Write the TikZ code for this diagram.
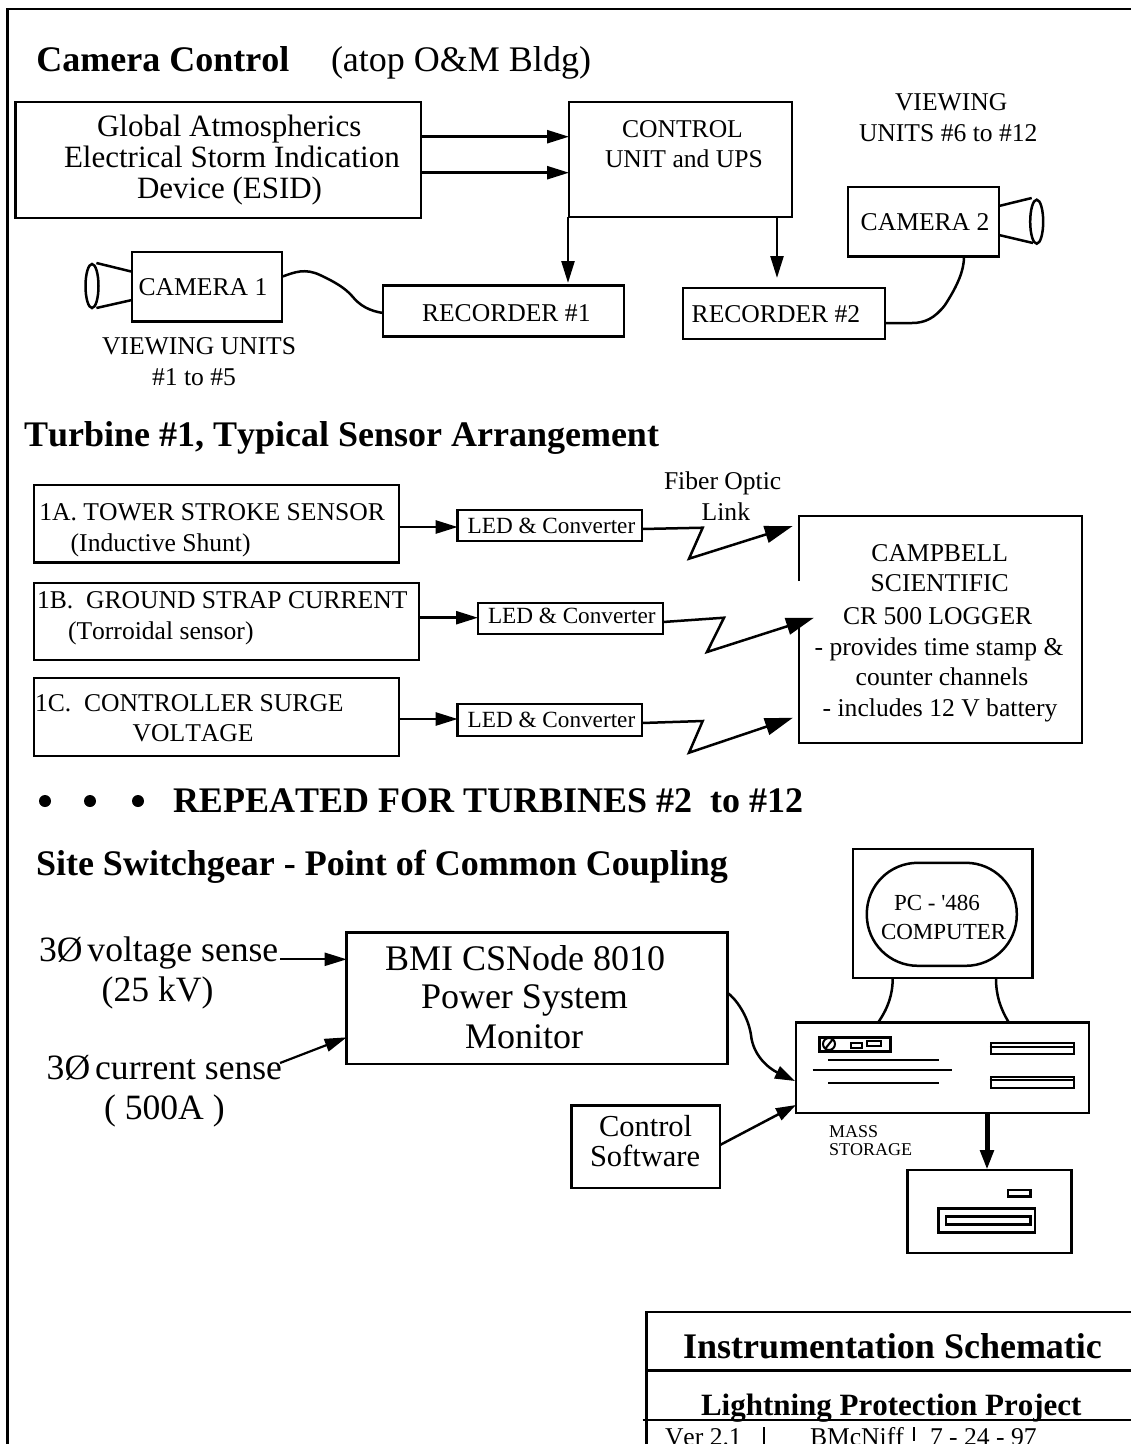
\documentclass[tikz,border=0pt]{standalone}
\usepackage{fontspec}
\setmainfont[Kerning=Off]{Liberation Serif}
\newfontfamily\rawserif[Kerning=Off]{Liberation Serif}
\usetikzlibrary{arrows.meta}
\tikzset{
  ln/.style={line width=2.5pt,line join=miter,draw=black},
  bx/.style={draw=black,line width=2.5pt,inner sep=0pt,outer sep=0pt,fill=none},
  txt/.style={anchor=base west,inner sep=0pt,outer sep=0pt,text=black},
  arr/.style={ln,-{Triangle[length=22pt,width=13pt]}},
  arrbig/.style={ln,-{Triangle[length=28pt,width=17pt]}},
}
\newcommand{\bxnode}[5]{%
  \pgfmathsetmacro{\bw}{(#4)-(#2)}\pgfmathsetmacro{\bh}{(#5)-(#3)}%
  \pgfmathsetmacro{\bcx}{((#4)+(#2))/2}\pgfmathsetmacro{\bcy}{((#5)+(#3))/2}%
  \node[bx,minimum width=\bw pt,minimum height=\bh pt] (#1) at (\bcx,\bcy) {};}
\newcommand{\tx}[5]{\node[txt,font=\fontsize{#2}{#2}\selectfont] (#1) at (#3,#4) {#5};}
\newcommand{\bt}[5]{\node[txt,font=\fontsize{#2}{#2}\selectfont\bfseries] (#1) at (#3,#4) {#5};}
\begin{document}
\begin{tikzpicture}[x=1pt,y=-1pt]
\useasboundingbox (0,0) rectangle (1131,1444);
% outer frame
\draw[line width=2.8pt] (7.5,1444) -- (7.5,9) -- (1131,9);
% --- Camera control
\bt{h1}{36}{36.4}{71.7}{Camera Control}
\tx{h1b}{36}{331}{71.7}{(atop O\&M Bldg)}
\bxnode{esid}{15.7}{102}{421}{218}
\tx{e1}{31}{97}{136.7}{Global Atmospherics}
\tx{e2}{31}{64}{167.5}{Electrical Storm Indication}
\tx{e3}{31}{137}{198.5}{Device (ESID)}
\bxnode{ctrl}{569}{102}{792}{217}
\tx{c1}{25.6}{622}{137}{CONTROL}
\tx{c2}{25.6}{605}{167.7}{UNIT and UPS}
\tx{v1}{25.6}{895}{110.7}{VIEWING}
\tx{v2}{25.6}{859}{141.7}{UNITS \#6 to \#12}
\bxnode{cam2}{848}{187}{999}{256.7}
\tx{cam2t}{25.6}{860.7}{230}{CAMERA 2}
\bxnode{cam1}{132}{252}{282}{321.7}
\tx{cam1t}{25.6}{138.6}{295}{CAMERA 1}
\bxnode{rec1}{383}{285.7}{624}{336.7}
\tx{rec1t}{25.6}{422}{321}{RECORDER \#1}
\bxnode{rec2}{683}{288}{885}{339}
\tx{rec2t}{25.6}{691.7}{322.7}{RECORDER \#2}
\tx{v3}{25.6}{102}{354}{VIEWING UNITS}
\tx{v4}{25.6}{152}{385}{\#1 to \#5}
\draw[arr] (esid.east |- 0,136.7) -- (ctrl.west |- 0,136.7);
\draw[arr] (esid.east |- 0,172.7) -- (ctrl.west |- 0,172.7);
\coordinate (r1tip) at (568,283);
\coordinate (r2tip) at (777,278);
\draw[arr] (ctrl.south -| r1tip) -- (r1tip);
\draw[arr] (ctrl.south -| r2tip) -- (r2tip);
% camera lenses
\draw[ln] (92,286) ellipse [x radius=6.5,y radius=22];
\draw[ln] (96.4,263) -- (cam1.west |- 0,271.7);
\draw[ln] (96.4,308) -- (cam1.west |- 0,300);
\draw[ln] (1036.7,221.7) ellipse [x radius=6.5,y radius=22];
\draw[ln] (cam2.east |- 0,206) -- (1031.7,198);
\draw[ln] (cam2.east |- 0,235) -- (1033,243);
% camera cables
\draw[ln] (cam1.east |- 0,276.7) .. controls (295,272) and (305,268) .. (320,275)
  .. controls (335,282) and (345,288) .. (352,296) .. controls (360,306) and (370,311) .. (rec1.west |- 0,313);
\draw[ln] (cam2.south -| 964,0) .. controls (964,270) and (958,285) .. (945,305)
  .. controls (935,318) and (925,323) .. (912,323) -- (rec2.east |- 0,323);
% --- Turbine
\bt{h2}{36}{24}{446.7}{Turbine \#1, Typical Sensor Arrangement}
\bxnode{s1}{34}{485}{399}{562.3}
\tx{s1a}{25.6}{39.3}{520}{1A. TOWER STROKE SENSOR}
\tx{s1b}{25.6}{70.7}{551}{(Inductive Shunt)}
\bxnode{s2}{34}{583}{419}{660}
\tx{s2a}{25.6}{37}{608}{1B.\ \ GROUND STRAP CURRENT}
\tx{s2b}{25.6}{68}{639}{(Torroidal sensor)}
\bxnode{s3}{34}{678}{399}{756}
\tx{s3a}{25.6}{35}{711}{1C.\ \ CONTROLLER SURGE}
\tx{s3b}{25.6}{132.7}{741.7}{VOLTAGE}
\bxnode{l1}{457.7}{510}{642}{541}
\tx{l1t}{23.2}{467.7}{533}{LED \& Converter}
\bxnode{l2}{478}{603}{663}{634}
\tx{l2t}{23.2}{488}{623}{LED \& Converter}
\bxnode{l3}{457.7}{704}{642}{736}
\tx{l3t}{23.2}{467.7}{727}{LED \& Converter}
\draw[arr] (s1.east |- 0,527) -- (l1.west |- 0,527);
\draw[arr] (s2.east |- 0,617.7) -- (l2.west |- 0,617.7);
\draw[arr] (s3.east |- 0,719) -- (l3.west |- 0,719);
\tx{f1}{25.6}{664}{489}{Fiber Optic}
\tx{f2}{25.6}{701.7}{520}{Link}
% logger: left side has a gap
\node[inner sep=0pt,minimum width=282.4pt,minimum height=227pt] (cr) at (940.5,629.5) {};
\draw[ln] (cr.west |- 0,581) -- (cr.north west) -- (cr.north east) -- (cr.south east) -- (cr.south west) -- (cr.west |- 0,628);
\node[txt,font=\fontsize{25.6}{25.6}\selectfont,anchor=base] (cr1) at (939.7,561) {CAMPBELL};
\node[txt,font=\fontsize{25.6}{25.6}\selectfont,anchor=base] (cr2) at (939.7,591.7) {SCIENTIFIC};
\node[txt,font=\fontsize{25.6}{25.6}\selectfont,anchor=base] (cr3) at (937.7,624) {CR 500 LOGGER};
\node[txt,font=\fontsize{25.6}{25.6}\selectfont,anchor=base] (cr4) at (939,655) {- provides time stamp \&};
\node[txt,font=\fontsize{25.6}{25.6}\selectfont,anchor=base] (cr5) at (942,685) {counter channels};
\node[txt,font=\fontsize{25.6}{25.6}\selectfont,anchor=base] (cr6) at (940,716) {- includes 12 V battery};
\coordinate (t1) at (792.7,526);
\coordinate (t2) at (814,617.7);
\coordinate (t3) at (793,717.7);
\draw[arrbig] (l1.east |- 0,529) -- (702.7,527.7) -- (689,558.7) -- (t1);
\draw[arrbig] (l2.east |- 0,622) -- (724,617.7) -- (707,652) -- (t2);
\draw[arrbig] (l3.east |- 0,723) -- (702.7,721) -- (689,752.7) -- (t3);
% --- repeated
\fill (45,801) circle (6);
\fill (90,801) circle (6);
\fill (138,801) circle (6);
\bt{h3}{36}{173}{812}{REPEATED FOR TURBINES \#2\ \ to \#12}
\bt{h4}{36}{36}{875}{Site Switchgear - Point of Common Coupling}
% --- site switchgear
\tx{a1}{35.6}{39}{961.7}{3Ø\hspace{5pt}voltage sense}
\tx{a2}{35.6}{101.7}{1001.7}{(25 kV)}
\tx{a3}{35.6}{46.7}{1079}{3Ø\hspace{5pt}current sense}
\tx{a4}{35.6}{104}{1119}{( 500A )}
\bxnode{bmi}{346.7}{932.3}{727.7}{1064}
\tx{b1}{36}{385}{970}{BMI CSNode 8010}
\tx{b2}{36}{421}{1008}{Power System}
\tx{b3}{36}{465}{1048}{Monitor}
\bxnode{sw}{571.7}{1105.7}{720}{1188}
\tx{sw1}{30.5}{599}{1136}{Control}
\tx{sw2}{30.5}{590}{1166.7}{Software}
\coordinate (a1end) at (280,959.3);
\coordinate (a3end) at (280,1063);
\draw[arr,line width=2.2pt] (a1end) -- (bmi.west |- a1end);
\draw[arr,line width=2.2pt] (a3end) -- (bmi.west |- 0,1037.3);
% computer
\bxnode{mon}{853}{849}{1032.7}{978}
\node[bx,minimum width=150pt,minimum height=103pt,rounded corners=51pt] (scr) at (941.8,914.3) {};
\tx{pc1}{23}{894}{910}{\rawserif PC - '486}
\tx{pc2}{23}{881}{939}{COMPUTER}
\bxnode{base}{796}{1022.7}{1089}{1113}
\draw[ln] (mon.south -| 892.7,0) .. controls (892.7,995) and (888,1008) .. (base.north -| 878,0);
\draw[ln] (mon.south -| 996,0) .. controls (996,995) and (1000,1008) .. (base.north -| 1009,0);
\node[draw,line width=2.8pt,inner sep=0pt,minimum width=71pt,minimum height=14pt] (panel) at (855,1044.3) {};
\draw[line width=2pt] (829,1044) circle (6);
\draw[line width=2pt] (825,1049) -- (833,1039);
\node[draw,line width=2pt,inner sep=0pt,minimum width=11pt,minimum height=5pt] (pr1) at (856.3,1045.5) {};
\node[draw,line width=2pt,inner sep=0pt,minimum width=14pt,minimum height=5pt] (pr2) at (873.7,1043.2) {};
\draw[ln] (828,1060) -- (939,1060);
\draw[ln] (812.7,1070) -- (952,1070);
\draw[ln] (828,1083) -- (939,1083);
\node[draw,line width=2.4pt,inner sep=0pt,minimum width=83pt,minimum height=11pt] (d1) at (1032.3,1048.5) {};
\draw[line width=1.6pt] (d1.west |- 0,1047) -- (d1.east |- 0,1047);
\node[draw,line width=2.4pt,inner sep=0pt,minimum width=83pt,minimum height=11pt] (d2) at (1032.3,1082.2) {};
\draw[line width=1.6pt] (d2.west |- 0,1080) -- (d2.east |- 0,1080);
\tx{m1}{18}{829}{1137.7}{MASS}
\tx{m2}{18}{829}{1155.7}{STORAGE}
\bxnode{st}{907.7}{1170}{1071.7}{1253}
\bxnode{slot}{938.7}{1208.7}{1035}{1232.7}
\bxnode{slotb}{946}{1216.7}{1030.7}{1224.7}
\bxnode{led}{1008}{1190}{1030.7}{1196.7}
\draw[line width=5pt,-{Triangle[length=20pt,width=13pt]}] (base.south -| 987,0) -- (st.north -| 987,0);
\coordinate (basein) at (795,1081);
\draw[ln,-{Triangle[length=20pt,width=13pt]}] (bmi.east |- 0,993) .. controls (735,998) and (748,1015) .. (751,1035)
  .. controls (753,1055) and (768,1068) .. (basein);
\draw[ln,-{Triangle[length=20pt,width=13pt]}] (sw.east |- 0,1145) -- (base.west |- 0,1105);
% --- title block
\draw[ln] (1131,1312) -- (646.7,1312) -- (646.7,1444);
\draw[ln] (645,1370.7) -- (1131,1370.7);
\bt{tb1}{36}{683}{1358}{Instrumentation Schematic}
\bt{tb2}{31}{701}{1415}{Lightning Protection Project}
\draw[ln] (642.7,1420) -- (1131,1420);
\tx{tb3}{25.6}{665}{1445}{Ver 2.1}
\tx{tb4}{25.6}{810}{1445}{BMcNiff}
\tx{tb5}{25.6}{930}{1445}{7 - 24 - 97}
\draw[ln] (764,1427) -- (764,1444);
\draw[ln] (914,1427) -- (914,1441);
\end{tikzpicture}
\end{document}
